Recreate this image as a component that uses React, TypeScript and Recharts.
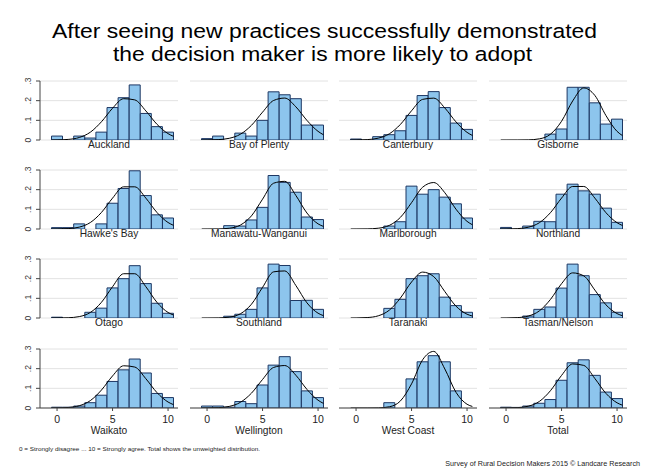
import React from 'react';
import { ComposedChart, Bar, Line, XAxis, YAxis, CartesianGrid } from 'recharts';

// scores 0..10 (histogram bins) and the x positions the normal overlay was read at
const binX = [0, 1, 2, 3, 4, 5, 6, 7, 8, 9, 10];
const curveX = [-0.5, 0, 1, 2, 3, 4, 5, 6, 7, 8, 9, 10, 10.5];
const yTicks = [0, 0.1, 0.2, 0.3];
const xTicks = [0, 5, 10];

const regionNames = [
  'Auckland', 'Bay of Plenty', 'Canterbury', 'Gisborne',
  "Hawke's Bay", 'Manawatu-Wanganui', 'Marlborough', 'Northland',
  'Otago', 'Southland', 'Taranaki', 'Tasman/Nelson',
  'Waikato', 'Wellington', 'West Coast', 'Total',
];

// density of each score
const aucklandBars = [0.02, 0, 0.02, 0.01, 0.04, 0.165, 0.215, 0.28, 0.135, 0.068, 0.04];
const bayOfPlentyBars = [0.007, 0.02, 0, 0.035, 0.02, 0.1, 0.245, 0.23, 0.21, 0.076, 0.076];
const canterburyBars = [0.005, 0, 0.017, 0.027, 0.047, 0.125, 0.226, 0.246, 0.165, 0.086, 0.054];
const gisborneBars = [0, 0, 0, 0, 0.03, 0.056, 0.268, 0.268, 0.189, 0.081, 0.106];
const hawkesBayBars = [0.007, 0.007, 0.026, 0, 0.026, 0.131, 0.206, 0.296, 0.17, 0.072, 0.056];
const manawatuBars = [0, 0, 0.017, 0.015, 0.046, 0.11, 0.272, 0.237, 0.187, 0.061, 0.048];
const marlboroughBars = [0, 0, 0, 0.015, 0.037, 0.218, 0.177, 0.2, 0.162, 0.128, 0.056];
const northlandBars = [0.008, 0, 0.015, 0.039, 0.037, 0.177, 0.228, 0.194, 0.177, 0.106, 0.034];
const otagoBars = [0.004, 0, 0, 0.029, 0.05, 0.153, 0.2, 0.266, 0.175, 0.075, 0.024];
const southlandBars = [0, 0, 0.009, 0.019, 0.044, 0.153, 0.274, 0.267, 0.089, 0.09, 0.044];
const taranakiBars = [0, 0, 0, 0.049, 0.095, 0.2, 0.215, 0.225, 0.106, 0.063, 0.029];
const tasmanBars = [0, 0, 0.01, 0.044, 0.056, 0.152, 0.274, 0.215, 0.119, 0.077, 0.029];
const waikatoBars = [0.004, 0.004, 0.01, 0.027, 0.065, 0.135, 0.194, 0.249, 0.178, 0.074, 0.053];
const wellingtonBars = [0.01, 0.01, 0.004, 0.033, 0.022, 0.117, 0.218, 0.261, 0.185, 0.087, 0.053];
const westCoastBars = [0, 0, 0, 0.027, 0, 0.148, 0.235, 0.266, 0.235, 0.087, 0];
const totalBars = [0.004, 0.003, 0.01, 0.024, 0.043, 0.141, 0.23, 0.245, 0.166, 0.081, 0.048];

// normal overlay heights at curveX
const aucklandCurve = [0.0002, 0.0005, 0.003, 0.0127, 0.0397, 0.0927, 0.1615, 0.21, 0.204, 0.148, 0.08, 0.0324, 0.0184];
const bayOfPlentyCurve = [0.0001, 0.0003, 0.0019, 0.0086, 0.0292, 0.0745, 0.1416, 0.2011, 0.2132, 0.1687, 0.0997, 0.044, 0.0262];
const canterburyCurve = [0.0001, 0.0003, 0.002, 0.0093, 0.0315, 0.0795, 0.1488, 0.2066, 0.2129, 0.1627, 0.0923, 0.0388, 0.0225];
const gisborneCurve = [0, 0, 0.0001, 0.0007, 0.0058, 0.0293, 0.0952, 0.1983, 0.2647, 0.2266, 0.1243, 0.0438, 0.022];
const hawkesBayCurve = [0.0001, 0.0003, 0.002, 0.0095, 0.033, 0.0841, 0.157, 0.2145, 0.2145, 0.157, 0.0841, 0.033, 0.0183];
const manawatuCurve = [0, 0.0001, 0.0005, 0.004, 0.0199, 0.0668, 0.1516, 0.233, 0.2423, 0.1705, 0.0812, 0.0262, 0.0128];
const marlboroughCurve = [0, 0.0001, 0.0006, 0.004, 0.0184, 0.0593, 0.134, 0.2125, 0.2363, 0.1844, 0.1009, 0.0388, 0.021];
const northlandCurve = [0.0001, 0.0003, 0.0018, 0.0089, 0.0319, 0.083, 0.1571, 0.2162, 0.2162, 0.1571, 0.083, 0.0319, 0.0175];
const otagoCurve = [0, 0.0002, 0.0013, 0.0071, 0.0282, 0.0797, 0.1592, 0.2251, 0.2251, 0.1592, 0.0797, 0.0282, 0.0148];
const southlandCurve = [0, 0.0001, 0.0006, 0.0044, 0.0212, 0.0699, 0.1558, 0.2347, 0.2393, 0.1652, 0.0771, 0.0244, 0.0118];
const taranakiCurve = [0.0001, 0.0003, 0.0022, 0.0111, 0.04, 0.1017, 0.1832, 0.2334, 0.2104, 0.1342, 0.0605, 0.0193, 0.0096];
const tasmanCurve = [0.0001, 0.0003, 0.0019, 0.0099, 0.0362, 0.0943, 0.1745, 0.2294, 0.2143, 0.1421, 0.067, 0.0224, 0.0114];
const waikatoCurve = [0.0002, 0.0004, 0.0026, 0.0115, 0.0377, 0.0913, 0.1631, 0.2147, 0.2083, 0.1489, 0.0784, 0.0304, 0.0169];
const wellingtonCurve = [0.0001, 0.0003, 0.0017, 0.0081, 0.0288, 0.0753, 0.1452, 0.2063, 0.2159, 0.1666, 0.0947, 0.0397, 0.0229];
const westCoastCurve = [0, 0, 0, 0.0006, 0.0062, 0.036, 0.1228, 0.2454, 0.2879, 0.1983, 0.0802, 0.019, 0.0076];
const totalCurve = [0.0001, 0.0002, 0.0018, 0.0091, 0.0333, 0.0879, 0.1658, 0.2239, 0.2166, 0.15, 0.0743, 0.0264, 0.0139];

const panelBars = [
  aucklandBars, bayOfPlentyBars, canterburyBars, gisborneBars,
  hawkesBayBars, manawatuBars, marlboroughBars, northlandBars,
  otagoBars, southlandBars, taranakiBars, tasmanBars,
  waikatoBars, wellingtonBars, westCoastBars, totalBars,
];
const panelCurves = [
  aucklandCurve, bayOfPlentyCurve, canterburyCurve, gisborneCurve,
  hawkesBayCurve, manawatuCurve, marlboroughCurve, northlandCurve,
  otagoCurve, southlandCurve, taranakiCurve, tasmanCurve,
  waikatoCurve, wellingtonCurve, westCoastCurve, totalCurve,
];

const FONT = '"Liberation Sans", Arial, Helvetica, sans-serif';
const BAR_FILL = '#8DC5ED';
const BAR_STROKE = '#1D3763';
const GRID = '#e2e2e2';
const AXIS = '#444';

const PLOT_W = 138;
const PLOT_H = 59;
const TOP_PAD = 5;
const colLeft = [40, 190, 339, 489];
const rowBase = [140, 229, 318, 408];
const PAD = { left: 11.5, right: 4.4 };

const YTick = (props: any) => {
  const { x, y, payload } = props;
  const label = payload.value === 0 ? '0' : String(payload.value).replace(/^0/, '');
  const tx = x - 3;
  return (
    <text x={tx} y={y} transform={`rotate(-90, ${tx}, ${y})`} textAnchor="middle"
      fontSize={8.5} fill="#333" fontFamily={FONT}>
      {label}
    </text>
  );
};

function Panel({ index }: { index: number }) {
  const row = Math.floor(index / 4);
  const col = index % 4;
  const bottomRow = row === 3;
  const firstCol = col === 0;

  const data = binX.map((x, i) => ({ x, v: panelBars[index][i] }));
  const curve = curveX.map((x, i) => ({ x, d: panelCurves[index][i] }));

  const axisH = bottomRow ? 22 : 0;
  const width = firstCol ? PLOT_W + 40 : PLOT_W;
  const height = TOP_PAD + PLOT_H + axisH + 3;
  const left = firstCol ? 0 : colLeft[col];
  const top = rowBase[row] - PLOT_H - TOP_PAD;

  return (
    <div style={{ position: 'absolute', left, top }}>
      <ComposedChart width={width} height={height} data={data}
        margin={{ top: TOP_PAD, right: 0, bottom: 3, left: 0 }}
        barCategoryGap={0} barGap={0}>
        <CartesianGrid horizontal vertical={false} stroke={GRID} />
        <XAxis xAxisId="c" dataKey="x" type="number" domain={[-0.5, 10.5]} allowDataOverflow
          ticks={xTicks} padding={PAD} hide={!bottomRow} height={axisH}
          tickSize={3} tickMargin={5} stroke={AXIS} tick={{ fontSize: 10.5, fill: '#222', fontFamily: FONT }}
          interval={0} />
        <XAxis xAxisId={0} dataKey="x" type="category" hide height={0} padding={PAD} />
        <YAxis domain={[0, 0.3]} allowDataOverflow ticks={yTicks} hide={!firstCol} width={firstCol ? 40 : 0}
          tickSize={4} stroke={AXIS} tick={<YTick />} interval={0} />
        <Bar dataKey="v" fill={BAR_FILL} stroke={BAR_STROKE} strokeWidth={1} isAnimationActive={false} />
        <Line data={curve} xAxisId="c" dataKey="d" type="monotone" stroke="#000" strokeWidth={1}
          dot={false} activeDot={false} isAnimationActive={false} />
      </ComposedChart>
    </div>
  );
}

export default function App() {
  return (
    <div style={{ position: 'absolute', left: 0, top: 0, width: 650, height: 473, background: '#fff', fontFamily: FONT }}>
      {regionNames.map((_, i) => <Panel key={i} index={i} />)}
      <svg width={650} height={473} style={{ position: 'absolute', left: 0, top: 0, pointerEvents: 'none' }}>
        <text x={324.5} y={37.5} textAnchor="middle" fontSize={20.5} fontFamily={FONT} fill="#000"
          textLength={545} lengthAdjust="spacingAndGlyphs">
          After seeing new practices successfully demonstrated
        </text>
        <text x={322.5} y={60.5} textAnchor="middle" fontSize={20.5} fontFamily={FONT} fill="#000"
          textLength={419} lengthAdjust="spacingAndGlyphs">
          the decision maker is more likely to adopt
        </text>
        {regionNames.map((name, i) => {
          const row = Math.floor(i / 4);
          const col = i % 4;
          const y = row === 3 ? 433.5 : rowBase[row] + 8.4;
          return (
            <text key={name} x={colLeft[col] + PLOT_W / 2} y={y} textAnchor="middle"
              fontSize={10.2} fontFamily={FONT} fill="#222">
              {name}
            </text>
          );
        })}
        <text x={19} y={451} fontSize={5.8} fontFamily={FONT} fill="#222"
          textLength={241} lengthAdjust="spacingAndGlyphs">
          0 = Strongly disagree ... 10 = Strongly agree. Total shows the unweighted distribution.
        </text>
        <text x={640} y={465.5} textAnchor="end" fontSize={7.2} fontFamily={FONT} fill="#222">
          Survey of Rural Decision Makers 2015 © Landcare Research
        </text>
      </svg>
    </div>
  );
}
